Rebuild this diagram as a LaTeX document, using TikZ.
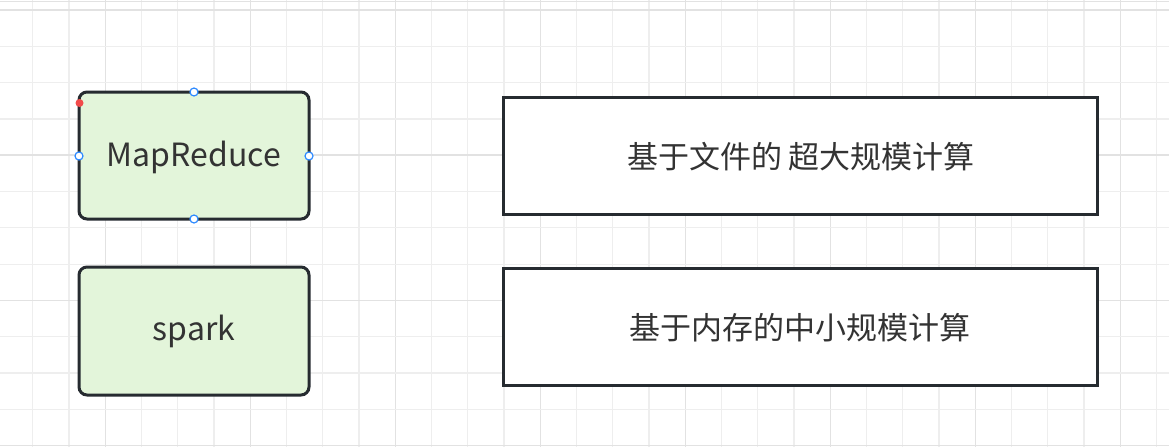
\documentclass[tikz,border=0pt]{standalone}
\usepackage{fontspec}
\setmainfont{Noto Sans CJK SC}
\definecolor{gridminor}{HTML}{EEEEEE}
\definecolor{gridmajor}{HTML}{E2E2E2}
\definecolor{boxgreen}{HTML}{E3F5DA}
\definecolor{boxline}{HTML}{262B30}
\definecolor{txt}{HTML}{333333}
\definecolor{handleblue}{HTML}{2F8BFF}
\definecolor{handlered}{HTML}{F24B4B}
\tikzset{
  greenbox/.style={draw=boxline, line width=3pt, fill=boxgreen, rounded corners=8pt},
  plainbox/.style={draw=boxline, line width=3pt, fill=white},
  lbl/.style={text=txt, font=\fontsize{32}{38}\selectfont, inner sep=0pt},
  cjklbl/.style={text=txt, font=\fontsize{31}{37}\selectfont, inner sep=0pt},
  handle/.style={circle, draw=handleblue, fill=white, line width=1.2pt, minimum size=8pt, inner sep=0pt},
  reddot/.style={circle, fill=handlered, minimum size=8pt, inner sep=0pt},
}
\begin{document}
\begin{tikzpicture}[x=1pt,y=-1pt]
\useasboundingbox (0,0) rectangle (1169,447);
\fill[white] (0,0) rectangle (1169,447);
% grid
\foreach \k in {-2,...,29}{
  \pgfmathsetmacro{\gx}{105.3+36.25*\k}
  \pgfmathtruncatemacro{\m}{mod(\k+40,4)}
  \ifnum\m=0
    \draw[gridmajor, line width=1.6pt] (\gx,0) -- (\gx,447);
  \else
    \draw[gridminor, line width=1.2pt] (\gx,0) -- (\gx,447);
  \fi
}
\foreach \k in {0,...,12}{
  \pgfmathsetmacro{\gy}{10+36.3*\k}
  \pgfmathtruncatemacro{\m}{mod(\k,4)}
  \ifnum\m=0
    \draw[gridmajor, line width=1.6pt] (0,\gy) -- (1169,\gy);
  \else
    \draw[gridminor, line width=1.2pt] (0,\gy) -- (1169,\gy);
  \fi
}
\draw[gridmajor, line width=1.6pt] (0,1.5) -- (1169,1.5);
% boxes
\draw[greenbox] (79,92) rectangle (309,219);
\node[lbl] (mr) at (194,157.5) {MapReduce};
\draw[greenbox] (79,267) rectangle (309,395);
\node[lbl] (sp) at (194,331.5) {spark};
\draw[plainbox] (503.5,97.5) rectangle (1097.5,214);
\node[cjklbl] (t1) at (801,157) {基于文件的 超大规模计算};
\draw[plainbox] (503.5,268.5) rectangle (1097.5,385.5);
\node[cjklbl] (t2) at (800,328) {基于内存的中小规模计算};
% selection handles
\node[handle] (h1) at (194,92) {};
\node[handle] (h2) at (79,156) {};
\node[handle] (h3) at (309,156) {};
\node[handle] (h4) at (194,219) {};
\node[reddot] (rd) at (79.5,103) {};
\end{tikzpicture}
\end{document}
